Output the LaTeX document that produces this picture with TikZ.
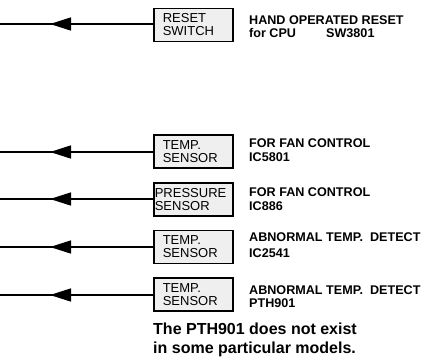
\documentclass[tikz,border=0pt]{standalone}
\usepackage{fontspec}
\setmainfont{Liberation Sans}
\usetikzlibrary{arrows.meta,decorations.markings}
\definecolor{boxgray}{HTML}{EFEFEF}
\begin{document}
\begin{tikzpicture}[x=1pt,y=-1pt,
  sbox/.style={draw=black,line width=1.6pt,fill=boxgray,text width=61pt,inner xsep=9pt,inner ysep=0pt,
     minimum height=33pt,anchor=west,align=left,font=\fontsize{13}{13}\selectfont},
  wire/.style={line width=1.5pt,postaction={decorate},
     decoration={markings,mark=at position 103pt with {\arrow{Triangle[length=21pt,width=13pt]}}}},
  lbl/.style={anchor=base west,inner sep=0pt,align=left,font=\fontsize{12.6}{14}\selectfont\bfseries},
  note/.style={anchor=base west,inner sep=0pt,align=left,font=\fontsize{16}{19.5}\selectfont\bfseries}]
\useasboundingbox (0,0) rectangle (426,360);
% boxes
\node[sbox] (b1) at (153,25) {RESET\\SWITCH};
\node[sbox] (b2) at (153,151.5) {TEMP.\\SENSOR};
\node[sbox,text width=77pt,inner xsep=1pt] (b3) at (153,199.5) {PRESSURE\\SENSOR};
\node[sbox] (b4) at (153,247) {TEMP.\\SENSOR};
\node[sbox] (b5) at (153,294.5) {TEMP.\\SENSOR};
% wire ends
\coordinate (e1) at (0,24);
\coordinate (e2) at (0,152);
\coordinate (e3) at (0,199);
\coordinate (e4) at (0,247);
\coordinate (e5) at (0,295);
\draw[wire] (b1.west |- e1) -- (e1);
\draw[wire] (b2.west |- e2) -- (e2);
\draw[wire] (b3.west |- e3) -- (e3);
\draw[wire] (b4.west |- e4) -- (e4);
\draw[wire] (b5.west |- e5) -- (e5);
% labels (anchor at baseline of last line)
\node[lbl] (l1) at (249,37.5) {HAND OPERATED RESET\\[-1pt]\makebox[77pt][l]{for CPU}SW3801};
\node[lbl] (l2) at (249,161.5) {FOR FAN CONTROL\\IC5801};
\node[lbl] (l3) at (249,210.5) {FOR FAN CONTROL\\IC886};
\node[lbl] (l4) at (249,257.5) {ABNORMAL TEMP.\ \ DETECT\\[2pt]IC2541};
\node[lbl] (l5) at (249,307.5) {ABNORMAL TEMP.\ \ DETECT\\[-1pt]PTH901};
\node[note] (n1) at (153,353.5) {The PTH901 does not exist\\in some particular models.};
\end{tikzpicture}
\end{document}
